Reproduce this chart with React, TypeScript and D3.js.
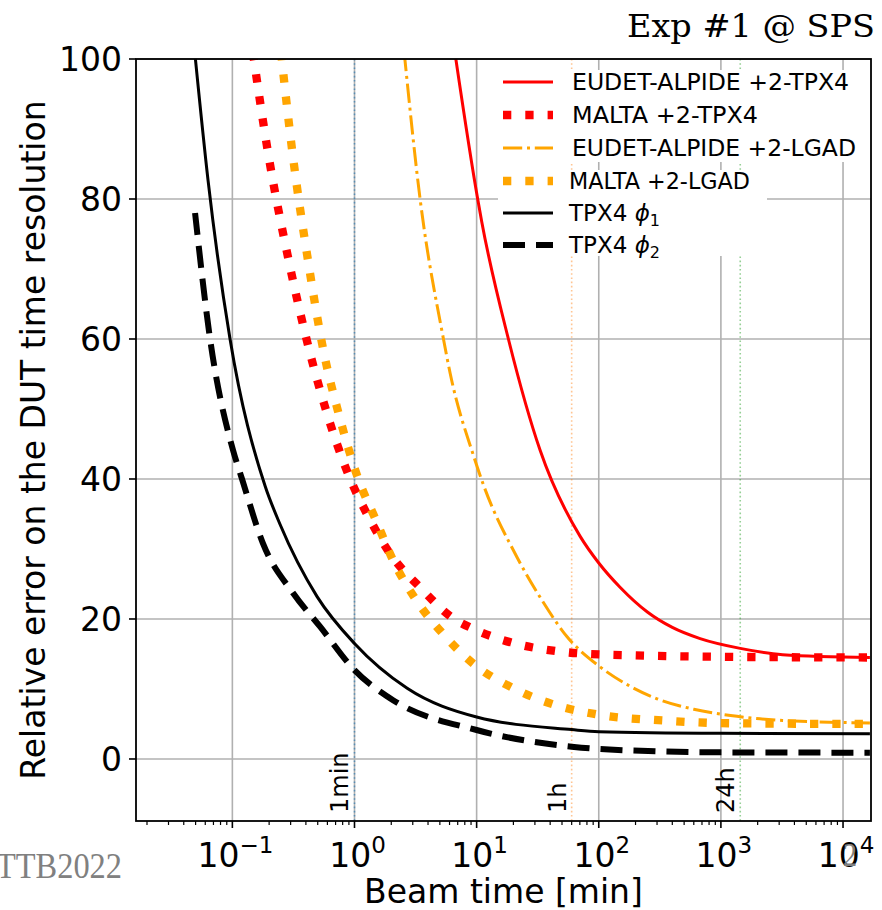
import React from 'react';
import * as d3 from 'd3';

// ---------- data ----------
const xTickValues = [0.1, 1, 10, 100, 1000, 10000];
const xTickExponents = ['−1', '0', '1', '2', '3', '4'];
const yTickValues = [0, 20, 40, 60, 80, 100];

const eudetTpx4X = [6.5, 10.2, 11.0, 18.2, 33.1, 70.4, 100, 150, 250, 400, 676, 1440, 3200, 16600];
const eudetTpx4Y = [102, 80, 76.8, 60, 44.1, 31.8, 28, 24.5, 21, 18.8, 17.2, 15.8, 14.9, 14.5];

const maltaTpx4X = [0.147, 0.196, 0.291, 0.425, 0.597, 0.903, 1.3, 1.96, 3.45, 6.42, 9.36, 20.6, 45.7, 67.8, 200, 1000, 16600];
const maltaTpx4Y = [101, 86.6, 71, 58.5, 49.3, 40.4, 34.6, 29.3, 24.5, 20.1, 18.6, 16.5, 15.4, 15.1, 14.8, 14.6, 14.5];

const eudetLgadX = [2.55, 3.45, 5.35, 6.07, 9.4, 11.4, 21.3, 34.2, 54.8, 100, 180, 300, 600, 1200, 3200, 16600];
const eudetLgadY = [101, 79.9, 60, 55.1, 43.4, 39.1, 28.9, 22.7, 17.5, 13.3, 10.4, 8.6, 7.1, 6.2, 5.5, 5.15];

const maltaLgadX = [0.25, 0.31, 0.419, 0.556, 0.748, 1.064, 1.5, 2.08, 3.2, 5.35, 9.72, 20.0, 43.9, 102, 349, 1192, 16600];
const maltaLgadY = [101, 86.7, 70.9, 58.4, 49.1, 40.2, 34.1, 28.3, 22.7, 17.8, 13.4, 10.1, 7.71, 6.3, 5.48, 5.1, 5.0];

const tpx4Phi1X = [0.0495, 0.0632, 0.0957, 0.1854, 0.246, 0.494, 1, 2.7, 10, 60, 100, 1000, 16600];
const tpx4Phi1Y = [100.5, 82.7, 60, 39, 33.5, 23.2, 16.5, 10.1, 6.0, 4.2, 3.9, 3.67, 3.6];

const tpx4Phi2X = [0.0495, 0.0657, 0.1013, 0.12, 0.178, 0.314, 0.523, 1, 2.07, 10, 60, 100, 1000, 16600];
const tpx4Phi2Y = [78, 60, 44.1, 40, 30.8, 23.7, 18.9, 12.7, 8.4, 4.14, 1.76, 1.43, 0.95, 0.9];

const markerValues = [1, 60, 1440];
const markerLabels = ['1min', '1h', '24h'];

// ---------- layout ----------
const W = 882;
const H = 910;
const X0 = 136;
const X1 = 871;
const Y0 = 59;
const Y1 = 821;
const FONT = 'DejaVu Sans';

type Pt = [number, number];
const zip = (xs: number[], ys: number[]): Pt[] => xs.map((v, i) => [v, ys[i]]);

const seriesList = [
  { key: 'eudetTpx4', data: zip(eudetTpx4X, eudetTpx4Y), color: '#ff0000', width: 3, dash: undefined as string | undefined },
  { key: 'maltaTpx4', data: zip(maltaTpx4X, maltaTpx4Y), color: '#ff0000', width: 8.3, dash: '8.3 14' },
  { key: 'eudetLgad', data: zip(eudetLgadX, eudetLgadY), color: '#ffa500', width: 3, dash: '19.2 4.8 3 4.8' },
  { key: 'maltaLgad', data: zip(maltaLgadX, maltaLgadY), color: '#ffa500', width: 8.3, dash: '8.3 14' },
  { key: 'phi1', data: zip(tpx4Phi1X, tpx4Phi1Y), color: '#000000', width: 3, dash: undefined },
  { key: 'phi2', data: zip(tpx4Phi2X, tpx4Phi2Y), color: '#000000', width: 6, dash: '22 11' },
];

const markerColors = ['#1f77b4', '#ff7f0e', '#2ca02c'];
const markerOpacity = [0.6, 0.45, 0.5];

export default function App() {
  const x = d3.scaleLog().domain([Math.pow(10, -1.789), Math.pow(10, 4.229)]).range([X0, X1]);
  const y = d3.scaleLinear().domain([-8.86, 100]).range([Y1, Y0]);
  const line = d3
    .line<Pt>()
    .x((d) => x(d[0]))
    .y((d) => y(d[1]))
    .curve(d3.curveMonotoneX);

  const minorTicks: number[] = [];
  for (let k = -2; k <= 4; k++) {
    for (let m = 2; m <= 9; m++) {
      const v = m * Math.pow(10, k);
      const px = x(v);
      if (px >= X0 && px <= X1) minorTicks.push(v);
    }
  }

  const legendA = [
    { s: seriesList[0], label: 'EUDET-ALPIDE +2-TPX4', len: 277 },
    { s: seriesList[1], label: 'MALTA +2-TPX4', len: 186 },
    { s: seriesList[2], label: 'EUDET-ALPIDE +2-LGAD', len: 284 },
  ];
  const legendB = [
    { s: seriesList[3], label: 'MALTA +2-LGAD', len: 181 },
    { s: seriesList[4], label: 'phi1', len: 0 },
    { s: seriesList[5], label: 'phi2', len: 0 },
  ];
  const rowsA = [82, 115, 148];
  const rowsB = [181, 213, 245];

  const renderLegendRow = (item: any, yy: number, textX: number) => {
    const s = item.s;
    let text: React.ReactNode;
    if (item.label === 'phi1' || item.label === 'phi2') {
      text = (
        <text x={textX} y={yy + 8} fontFamily={FONT} fontSize={23}>
          TPX4{' '}
          <tspan fontStyle="italic">ϕ</tspan>
          <tspan fontSize={16} dy={5}>{item.label === 'phi1' ? '1' : '2'}</tspan>
        </text>
      );
    } else {
      text = (
        <text x={textX} y={yy + 8} fontFamily={FONT} fontSize={23} textLength={item.len} lengthAdjust="spacingAndGlyphs">
          {item.label}
        </text>
      );
    }
    return (
      <g key={item.label}>
        <line x1={503} x2={553} y1={yy} y2={yy} stroke={s.color} strokeWidth={s.width} strokeDasharray={s.dash} />
        {text}
      </g>
    );
  };

  return (
    <svg width={W} height={H} style={{ position: 'absolute', left: 0, top: 0 }} xmlns="http://www.w3.org/2000/svg">
      <defs>
        <clipPath id="plotClip">
          <rect x={X0} y={Y0} width={X1 - X0} height={Y1 - Y0} />
        </clipPath>
      </defs>
      <rect x={0} y={0} width={W} height={H} fill="#ffffff" />

      {/* grid */}
      <g stroke="#b0b0b0" strokeWidth={1.6}>
        {xTickValues.map((v) => (
          <line key={'gx' + v} x1={x(v)} x2={x(v)} y1={Y0} y2={Y1} />
        ))}
        {yTickValues.map((v) => (
          <line key={'gy' + v} x1={X0} x2={X1} y1={y(v)} y2={y(v)} />
        ))}
      </g>

      {/* time markers */}
      {markerValues.map((v, i) => (
        <g key={'m' + v}>
          <line
            x1={x(v)}
            x2={x(v)}
            y1={Y0}
            y2={Y1}
            stroke={markerColors[i]}
            strokeOpacity={markerOpacity[i]}
            strokeWidth={1.6}
            strokeDasharray="1.6 2.6"
          />
          <text
            transform={`translate(${x(v) - 6},${813}) rotate(-90)`}
            fontFamily={FONT}
            fontSize={24}
            textAnchor="start"
          >
            {markerLabels[i]}
          </text>
        </g>
      ))}

      {/* curves */}
      <g clipPath="url(#plotClip)" fill="none">
        {seriesList.map((s) => (
          <path
            key={s.key}
            d={line(s.data) || ''}
            stroke={s.color}
            strokeWidth={s.width}
            strokeDasharray={s.dash}
            strokeLinejoin="round"
          />
        ))}
      </g>

      {/* legends */}
      <rect x={498} y={70} width={373} height={92} fill="#ffffff" />
      <rect x={498} y={170} width={269} height={86} fill="#ffffff" />
      {legendA.map((it, i) => renderLegendRow(it, rowsA[i], 572))}
      {legendB.map((it, i) => renderLegendRow(it, rowsB[i], 569))}

      {/* axes frame */}
      <rect x={X0} y={Y0} width={X1 - X0} height={Y1 - Y0} fill="none" stroke="#000" strokeWidth={1.8} />

      {/* ticks */}
      <g stroke="#000">
        {xTickValues.map((v) => (
          <line key={'tx' + v} x1={x(v)} x2={x(v)} y1={Y1} y2={Y1 + 7} strokeWidth={1.6} />
        ))}
        {minorTicks.map((v) => (
          <line key={'mx' + v} x1={x(v)} x2={x(v)} y1={Y1} y2={Y1 + 4} strokeWidth={1.2} />
        ))}
        {yTickValues.map((v) => (
          <line key={'ty' + v} x1={X0 - 7} x2={X0} y1={y(v)} y2={y(v)} strokeWidth={1.6} />
        ))}
      </g>

      {xTickValues.map((v, i) => (
        <text key={'lx' + v} x={x(v) + 3} y={867} fontFamily={FONT} fontSize={33} textAnchor="middle">
          10
          <tspan fontSize={23} dy={-14}>{xTickExponents[i]}</tspan>
        </text>
      ))}
      {yTickValues.map((v) => (
        <text key={'ly' + v} x={122} y={y(v) + 12} fontFamily={FONT} fontSize={33} textAnchor="end">
          {v}
        </text>
      ))}

      {/* axis labels */}
      <text x={(X0 + X1) / 2} y={903} fontFamily={FONT} fontSize={33} textAnchor="middle">
        Beam time [min]
      </text>
      <text
        transform={`translate(45,${(Y0 + Y1) / 2}) rotate(-90)`}
        fontFamily={FONT}
        fontSize={33}
        textAnchor="middle"
      >
        Relative error on the DUT time resolution
      </text>

      {/* title & watermark */}
      <text x={875} y={37} fontFamily="DejaVu Serif" fontSize={31} textAnchor="end" textLength={248} lengthAdjust="spacingAndGlyphs">
        Exp #1 @ SPS
      </text>
      <text x={-4} y={878} fontFamily="Liberation Serif" fontSize={36} fill="#808080" textLength={126} lengthAdjust="spacingAndGlyphs">
        TTB2022
      </text>
      <text x={843} y={866} fontFamily="Liberation Serif" fontSize={34} fill="#808080" textLength={14} lengthAdjust="spacingAndGlyphs">
        2
      </text>
    </svg>
  );
}
